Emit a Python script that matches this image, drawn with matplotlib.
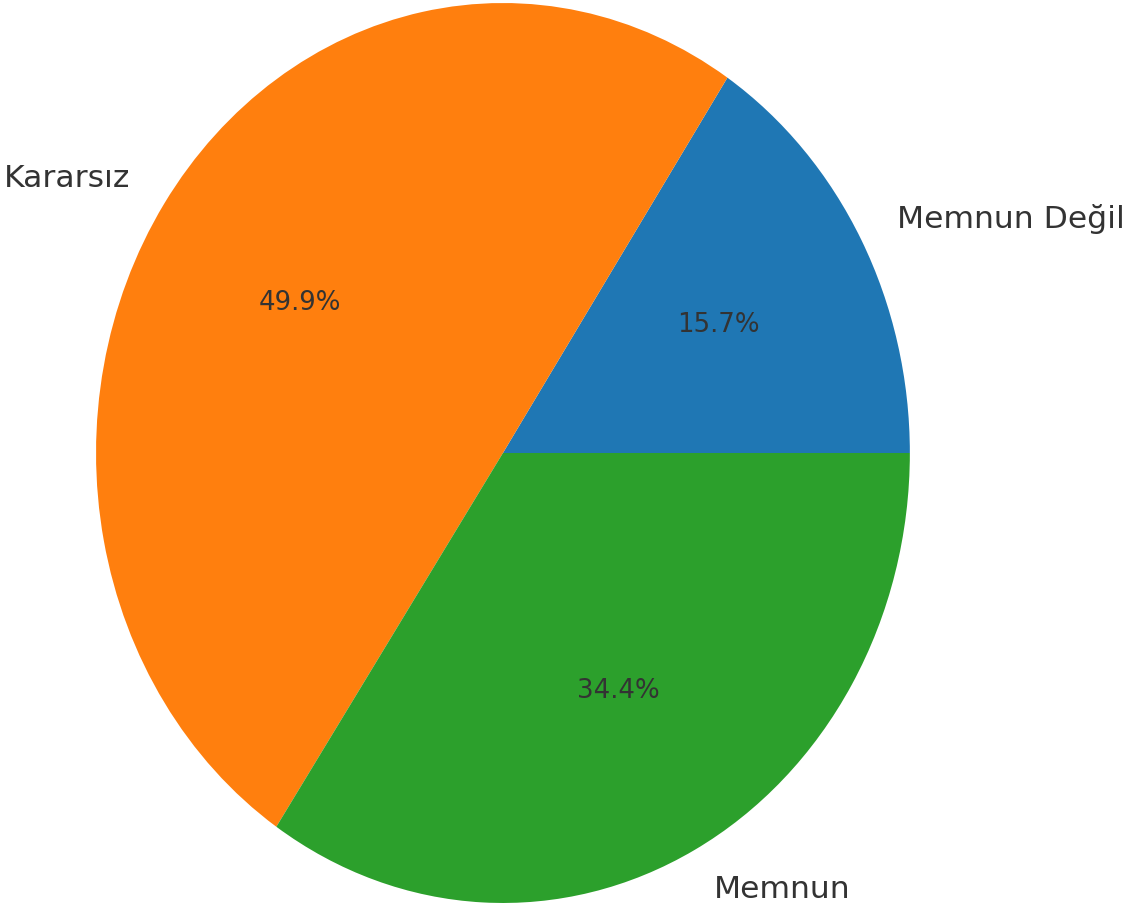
import matplotlib.pyplot as plt

labels = ["Memnun Değil", "Kararsız", "Memnun"]
values = [15.7, 49.9, 34.4]
colors = ["#1f77b4", "#ff7f0e", "#2ca02c"]

fig = plt.figure(figsize=(11.3, 9.1), dpi=100)
ax = fig.add_axes([0, 0, 1, 1])

wedges, texts, autotexts = ax.pie(values, labels=labels, colors=colors, autopct="%1.1f%%",
                                  textprops={"fontsize": 22.6, "color": "#333333"})
for t in autotexts:
    t.set_fontsize(18.7)

# stretched pie, as in the original
ax.set_xlim(-1.236, 1.541)
ax.set_ylim(-1.0156, 1.0067)
ax.set_aspect("auto")
ax.axis("off")

fig.savefig("out.png", dpi=100)
